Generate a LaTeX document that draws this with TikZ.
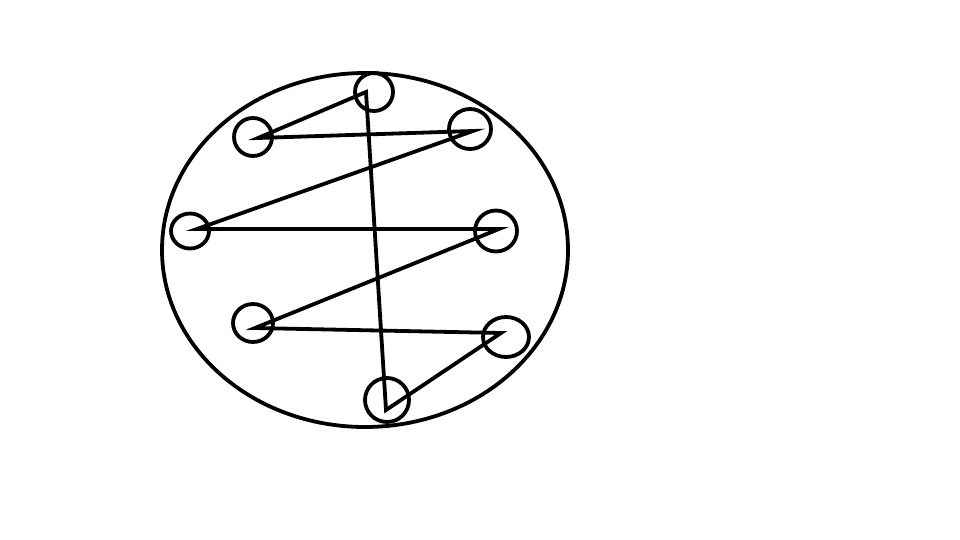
\documentclass[tikz,border=0pt]{standalone}
\begin{document}
\begin{tikzpicture}[x=1pt,y=-1pt,
  ring/.style={draw=black,line width=3.8pt},
  link/.style={draw=black,line width=3.8pt,line join=miter}]
\useasboundingbox (0,0) rectangle (960,540);
\fill[white] (0,0) rectangle (960,540);
\draw[ring] (365,250) ellipse [x radius=203, y radius=177];
% small circles
\coordinate (c1) at (374,92);
\coordinate (c2) at (253,137);
\coordinate (c3) at (470,129);
\coordinate (c4) at (190,231);
\coordinate (c5) at (496,231);
\coordinate (c6) at (253,323);
\coordinate (c7) at (506,337);
\coordinate (c8) at (387,400);
\draw[ring] (c1) ellipse [x radius=19, y radius=19];
\draw[ring] (c2) ellipse [x radius=19, y radius=19];
\draw[ring] (c3) ellipse [x radius=21, y radius=20];
\draw[ring] (c4) ellipse [x radius=19, y radius=17.5];
\draw[ring] (c5) ellipse [x radius=21, y radius=20.5];
\draw[ring] (c6) ellipse [x radius=20, y radius=19];
\draw[ring] (c7) ellipse [x radius=23, y radius=20];
\draw[ring] (c8) ellipse [x radius=22, y radius=22];
% connector end points
\coordinate (p1) at (366,92);
\coordinate (p2) at (258,138);
\coordinate (p3) at (473,131);
\coordinate (p4) at (197,229);
\coordinate (p5) at (499,229);
\coordinate (p6) at (255,328);
\coordinate (p7) at (501,333);
\coordinate (p8) at (386,410);
\draw[link] (p1) -- (p2) -- (p3) -- (p4) -- (p5) -- (p6) -- (p7) -- (p8) -- cycle;
\end{tikzpicture}
\end{document}
